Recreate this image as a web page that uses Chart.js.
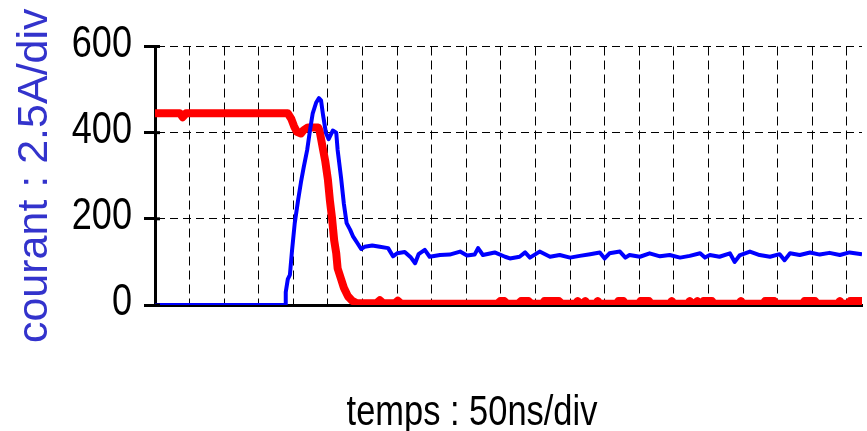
<!DOCTYPE html>
<html>
<head>
<meta charset="utf-8">
<script src="https://cdn.jsdelivr.net/npm/chart.js@4/dist/chart.umd.min.js"></script>
<style>
  html, body { margin: 0; padding: 0; background: #fff; }
  #wrap { width: 867px; height: 431px; }
</style>
</head>
<body>
<div id="wrap"><canvas id="scope" width="867" height="431"></canvas></div>
<script>
// time base in ns, currents in scope units
const yTicks = [0, 200, 400, 600];

const tBlue = [
  0, 188, 189, 192, 195, 198, 202, 207, 211, 215, 220, 224, 228, 233, 237, 240, 243,
  247, 251, 254, 257, 262, 264, 269, 273, 277, 282, 286, 292, 298, 303,
  314, 325, 337, 344, 350, 361, 370, 376, 381, 390, 397, 412, 426, 441, 451, 462, 467, 474, 491, 506,
  513, 527, 535, 542, 556, 571, 585, 600, 614, 629, 643, 650, 657, 672, 680, 686,
  701, 715, 730, 744, 759, 773, 788, 795, 802, 816, 831, 838, 845, 860,
  874, 889, 903, 910, 918, 932, 947, 961, 975, 990, 1004, 1022
];
const vBlue = [
  0, 0, 30, 60, 70, 125, 190, 245, 285, 320, 360, 405, 445, 470, 480, 475, 440,
  400, 385, 395, 405, 400, 360, 295, 235, 190, 175, 160, 145, 130, 135,
  138, 135, 132, 113, 120, 123, 110, 97, 118, 128, 112, 116, 117, 124, 115, 117, 132, 116, 122, 112,
  108, 112, 122, 110, 124, 112, 116, 110, 114, 118, 122, 108, 120, 124, 110, 116,
  112, 120, 113, 116, 110, 114, 120, 110, 116, 112, 120, 100, 115, 124,
  116, 112, 118, 104, 120, 116, 122, 117, 121, 116, 122, 118
];

const tRed = [
  0, 36, 40, 45,
  192, 197, 201, 205, 211, 215, 221, 236, 238,
  243, 246, 250, 253, 256, 259, 262, 264, 269, 273, 279, 285, 292,
  320, 325, 330, 347, 351, 356,
  495, 499, 505, 509,
  525, 529, 540, 544,
  560, 563, 584, 588,
  608, 611, 614, 619, 622, 625,
  637, 640, 643, 667, 670, 677, 680,
  699, 702, 714, 717,
  744, 747, 750, 770, 773, 776,
  781, 784, 787, 790, 793, 805, 808,
  844, 847, 850, 879, 882, 895, 898,
  936, 939, 954, 957,
  987, 990, 993, 1002, 1005, 1022
];
const vRed = [
  445, 445, 436, 445,
  445, 432, 415, 402, 398, 406, 412, 412, 404,
  360, 335, 290, 240, 200, 150, 120, 85, 60, 40, 20, 10, 4,
  4, 11, 4, 4, 10, 3,
  3, 9, 9, 3,
  3, 9, 9, 3,
  3, 9, 9, 3,
  3, 9, 3, 3, 9, 3,
  3, 9, 3, 3, 9, 9, 3,
  3, 9, 9, 3,
  3, 9, 3, 3, 9, 3,
  3, 9, 3, 3, 9, 9, 3,
  3, 9, 3, 3, 9, 9, 3,
  3, 9, 9, 3,
  3, 9, 3, 3, 9, 9
];

const SANS = '"Liberation Sans", Arial, sans-serif';
const NARROW = 0.82; // horizontal squeeze for the condensed captions

const toPoints = (ts, vs) => ts.map((t, i) => ({ x: t, y: vs[i] }));

function narrowText(ctx, text, x, y, size, align, baseline) {
  ctx.save();
  ctx.translate(x, y);
  ctx.scale(NARROW, 1);
  ctx.font = size + 'px ' + SANS;
  ctx.fillStyle = '#000';
  ctx.textAlign = align;
  ctx.textBaseline = baseline;
  ctx.fillText(text, 0, 0);
  ctx.restore();
}

// condensed y tick labels, short tick stubs into the plot, and the x caption
const scopeText = {
  id: 'scopeText',
  afterDraw(chart) {
    const ctx = chart.ctx;
    const y = chart.scales.y;
    const left = chart.chartArea.left;
    y.ticks.forEach(t => {
      const py = y.getPixelForValue(t.value);
      narrowText(ctx, String(t.value), 132, py - 2, 44, 'right', 'middle');
      ctx.save();
      ctx.strokeStyle = '#000';
      ctx.lineWidth = 3;
      ctx.beginPath();
      ctx.moveTo(left, py);
      ctx.lineTo(left + 5, py);
      ctx.stroke();
      ctx.restore();
    });
    narrowText(ctx, 'temps : 50ns/div', 472, 425, 42, 'center', 'alphabetic');
  }
};

new Chart(document.getElementById('scope'), {
  type: 'line',
  data: {
    datasets: [
      {
        label: 'courant',
        data: toPoints(tBlue, vBlue),
        borderColor: '#0000ff',
        borderWidth: 4,
        pointRadius: 0,
        borderJoinStyle: 'round',
        clip: { left: 2, top: 2, right: 0, bottom: 0 },
        order: 0
      },
      {
        label: 'tension',
        data: toPoints(tRed, vRed),
        borderColor: '#ff0000',
        borderWidth: 8,
        pointRadius: 0,
        borderJoinStyle: 'round',
        clip: { left: 4, top: 4, right: 0, bottom: 0 },
        order: 1
      }
    ]
  },
  options: {
    responsive: false,
    animation: false,
    layout: { padding: { left: 0, right: 5, top: 46.5, bottom: 0 } },
    plugins: {
      legend: { display: false },
      tooltip: { enabled: false }
    },
    scales: {
      x: {
        type: 'linear',
        min: 0,
        max: 1022,
        afterFit: s => { s.height = 126; },
        ticks: { display: false, stepSize: 50, includeBounds: false },
        grid: { color: '#000', lineWidth: 1, drawTicks: false },
        border: { color: '#000', width: 3, dash: [9, 5] }
      },
      y: {
        min: 0,
        max: 600,
        afterFit: s => { s.width = 155; },
        afterBuildTicks: s => { s.ticks = yTicks.map(v => ({ value: v })); },
        ticks: { display: false },
        grid: {
          color: '#000',
          lineWidth: 1,
          tickLength: 11,
          tickColor: '#000',
          tickWidth: 3
        },
        border: { color: '#000', width: 3, dash: [8, 5] },
        title: {
          display: true,
          text: 'courant : 2.5A/div',
          color: '#3333cc',
          font: { family: SANS, size: 43 },
          padding: { top: 9, bottom: 0 }
        }
      }
    }
  },
  plugins: [scopeText]
});
</script>
</body>
</html>
